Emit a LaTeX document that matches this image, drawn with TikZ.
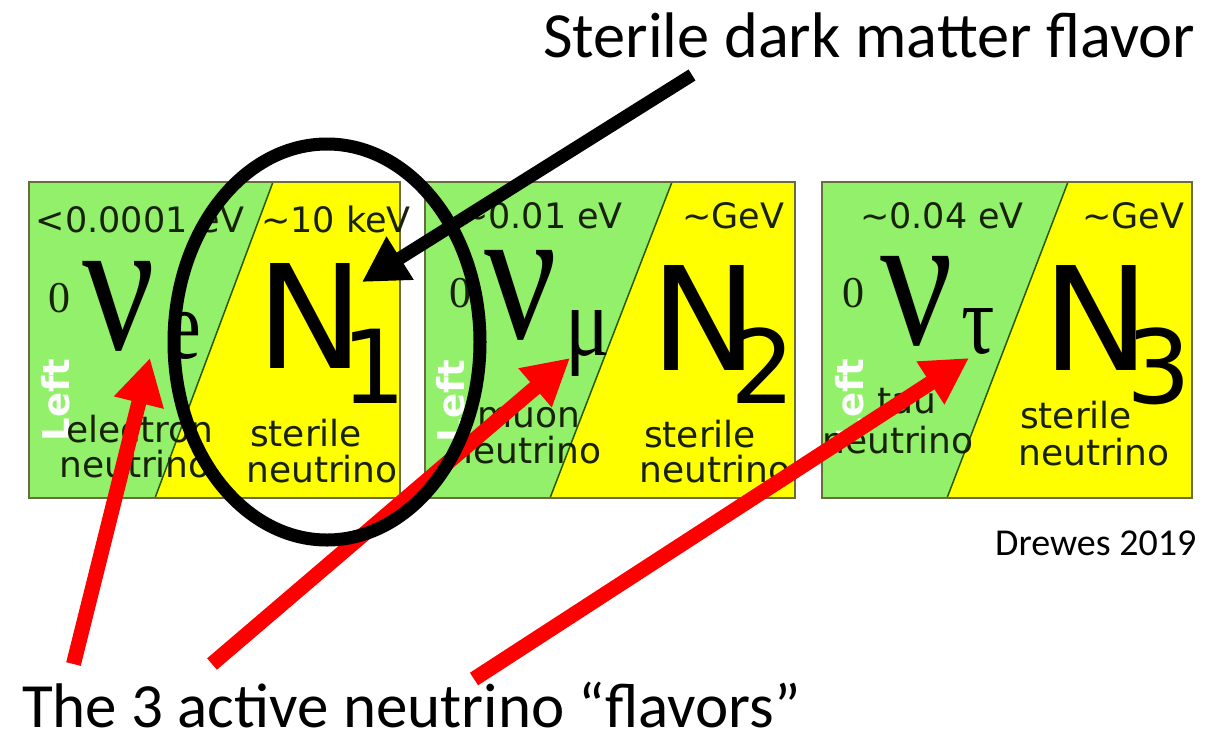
\documentclass[tikz,border=0pt]{standalone}
\usepackage{fontspec}
\usepackage{graphicx}
\setmainfont{Carlito}
\newfontfamily\dv{DejaVu Sans}
\newfontfamily\ser{Liberation Serif}
\usetikzlibrary{arrows.meta,shapes.geometric}
\definecolor{boxgreen}{HTML}{93F06A}
\definecolor{boxyellow}{HTML}{FFFF00}
\definecolor{boxedge}{HTML}{6B6B40}
\definecolor{diagcol}{HTML}{2E5A10}
\definecolor{inktext}{HTML}{18220A}
\definecolor{arrowred}{HTML}{FF0000}
\begin{document}
\begin{tikzpicture}[x=1pt,y=-1pt,
  lbl/.style={font=\dv\fontsize{36}{36}\selectfont, text=inktext, inner sep=0pt, anchor=base},
  toplbl/.style={font=\dv\fontsize{35}{35}\selectfont, text=inktext, inner sep=0pt, anchor=base},
  sidelbl/.style={font=\dv\bfseries\fontsize{37}{37}\selectfont, text=white, inner sep=0pt, rotate=90, anchor=center},
  bignu/.style={font=\ser\fontsize{192}{192}\selectfont, text=black, inner sep=0pt, anchor=base},
  supz/.style={font=\ser\fontsize{44}{44}\selectfont, text=inktext, inner sep=0pt, anchor=base},
  subgr/.style={font=\ser\fontsize{98}{98}\selectfont, text=black, inner sep=0pt, anchor=base},
  bigN/.style={font=\dv\fontsize{144}{144}\selectfont, text=black, inner sep=0pt, anchor=base},
  subN/.style={font=\dv\fontsize{102}{102}\selectfont, text=black, inner sep=0pt, anchor=base},
  caption/.style={font=\fontsize{63}{63}\selectfont, text=black, inner sep=0pt, anchor=base west, text depth=0pt},
  credit/.style={font=\fontsize{38}{38}\selectfont, text=black, inner sep=0pt, anchor=base west},
  redarrow/.style={draw=arrowred, line width=15pt, -{Triangle[length=46pt,width=48pt]}},
  blackarrow/.style={draw=black, line width=13pt, -{Triangle[length=45pt,width=48pt]}},
  ring/.style={draw=black, line width=13pt, ellipse, minimum width=306pt, minimum height=396pt, inner sep=0pt},
  frame/.style={draw=boxedge, line width=2pt},
  diag/.style={draw=diagcol, line width=1.5pt}
]
\useasboundingbox (0,0) rectangle (1220,734);
\fill[white] (0,0) rectangle (1220,734);

% ---------- box 1 ----------
\fill[boxgreen] (29,182) -- (273,182) -- (155,498) -- (29,498) -- cycle;
\fill[boxyellow] (273,182) -- (400,182) -- (400,498) -- (155,498) -- cycle;
\draw[diag] (273,182) -- (155,498);
\draw[frame] (29,182) rectangle (400,498);
% ---------- box 2 ----------
\fill[boxgreen] (425,182) -- (672,182) -- (550,498) -- (425,498) -- cycle;
\fill[boxyellow] (672,182) -- (795,182) -- (795,498) -- (550,498) -- cycle;
\draw[diag] (672,182) -- (550,498);
\draw[frame] (425,182) rectangle (795,498);
% ---------- box 3 ----------
\fill[boxgreen] (822,182) -- (1068,182) -- (947,498) -- (822,498) -- cycle;
\fill[boxyellow] (1068,182) -- (1192,182) -- (1192,498) -- (947,498) -- cycle;
\draw[diag] (1068,182) -- (947,498);
\draw[frame] (822,182) rectangle (1192,498);

% side labels
\node[sidelbl] (left1) at (56,400) {Left};
\node[sidelbl] (left2) at (451,401) {Left};
\node[sidelbl] (left3) at (850,400) {Left};

% mass labels
\node[toplbl] (m1) at (140,232) {<0.0001 eV};
\node[toplbl] (s1) at (336,232) {\textasciitilde 10 keV};
\node[toplbl] (m2) at (541,228) {\textasciitilde 0.01 eV};
\node[toplbl] (s2) at (733,228) {\textasciitilde GeV};
\node[toplbl] (m3) at (942,228) {\textasciitilde 0.04 eV};
\node[toplbl] (s3) at (1133,228) {\textasciitilde GeV};

% big symbols
\node[supz] (z1) at (59,312) {0};
\node[bignu] (nu1) at (119,349) {\scalebox{0.84}[1]{ν}};
\node[subgr] (e1) at (184,358) {\scalebox{0.8}[1]{e}};
\node[bigN] (N1) at (310,368) {N};
\node[subN] (d1) at (374,403) {1};

\node[supz] (z2) at (460,307) {0};
\node[bignu] (nu2) at (521,338) {\scalebox{0.84}[1]{ν}};
\node[subgr] (e2) at (588,355) {\scalebox{0.85}[1]{μ}};
\node[bigN] (N2) at (704,370) {N};
\node[subN] (d2) at (763,403) {2};

\node[supz] (z3) at (853,307) {0};
\node[bignu] (nu3) at (917,344) {\scalebox{0.84}[1]{ν}};
\node[subgr] (e3) at (978,353) {\scalebox{0.85}[1]{τ}};
\node[bigN] (N3) at (1096,370) {N};
\node[subN] (d3) at (1159,403) {3};

% names
\node[lbl] (a1) at (140,442) {electron};
\node[lbl] (b1) at (135,477) {neutrino};
\node[lbl] (c1) at (306,446) {sterile};
\node[lbl] (f1) at (322,482) {neutrino};

\node[lbl] (a2) at (529,427) {muon};
\node[lbl] (b2) at (526,463) {neutrino};
\node[lbl] (c2) at (700,447) {sterile};
\node[lbl] (f2) at (715,482) {neutrino};

\node[lbl] (a3) at (907,413) {tau};
\node[lbl] (b3) at (898,453) {neutrino};
\node[lbl] (c3) at (1076,428) {sterile};
\node[lbl] (f3) at (1094,465) {neutrino};

% captions
\node[caption, font=\fontsize{64.4}{64.4}\selectfont] (top) at (543,57) {Sterile dark matter flavor};
\node[caption] (bottom) at (22,727) {The 3 active neutrino “flavors”};
\node[credit] (cred) at (995,555) {Drewes 2019};

% red arrows
\coordinate (r1tail) at (73.5,664);
\coordinate (r1tip) at (150,358);
\coordinate (r2tail) at (212,664);
\coordinate (r2tip) at (570,358);
\coordinate (r3tail) at (474,679);
\coordinate (r3tip) at (969,358);
\draw[redarrow] (r1tail) -- (r1tip);
\draw[redarrow] (r2tail) -- (r2tip);
\draw[redarrow] (r3tail) -- (r3tip);

% ring
\node[ring] (ring) at (327,342) {};

% black arrow
\coordinate (btail) at (692,75);
\coordinate (btip) at (362,282);
\draw[blackarrow] (btail) -- (btip);
\end{tikzpicture}
\end{document}
